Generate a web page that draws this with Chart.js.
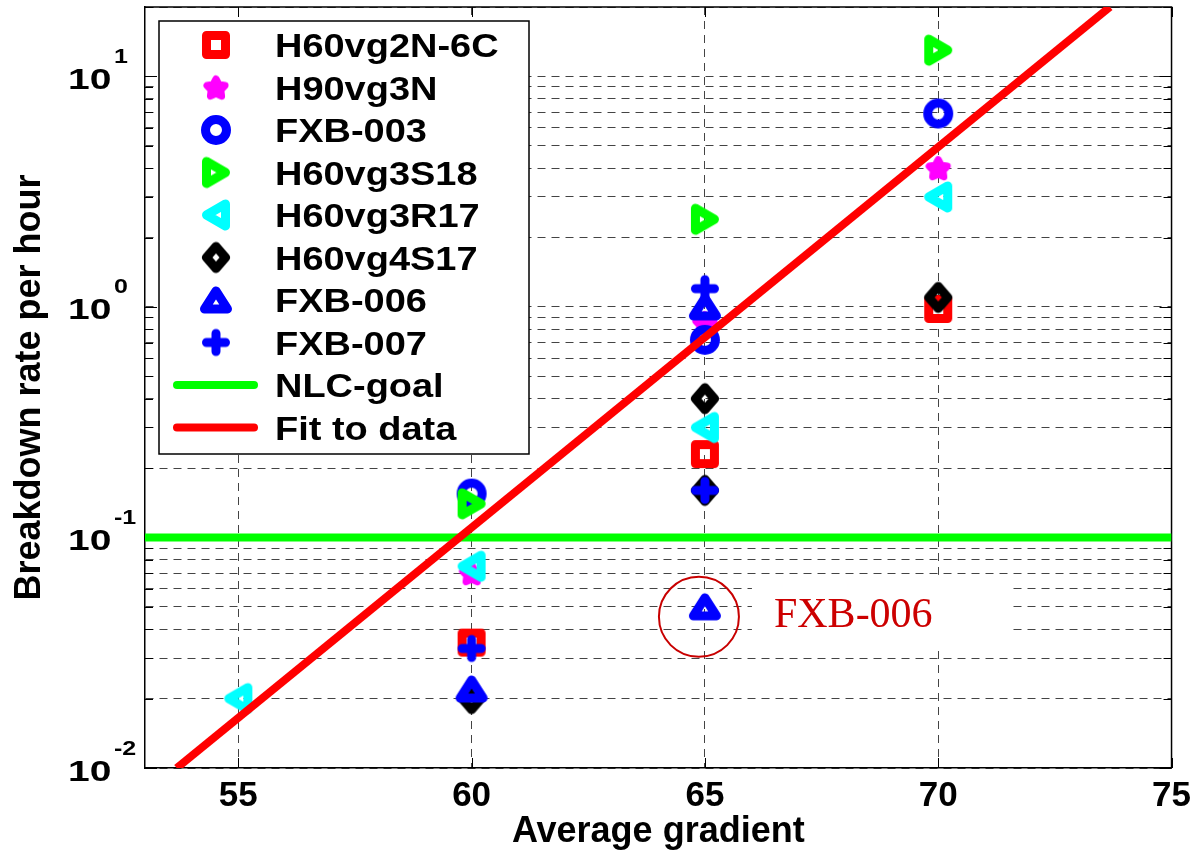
<!DOCTYPE html>
<html lang="en">
<head>
<meta charset="UTF-8">
<title>Breakdown rate vs average gradient</title>
<script src="https://cdn.jsdelivr.net/npm/chart.js"></script>
<style>
    body { margin: 0; background: white; }
    .chart-container { position: relative; width: 1198px; height: 859px; }
</style>
</head>
<body>
<div class="chart-container"><canvas id="bdrChart"></canvas></div>
<script>
// measured breakdown rates (per hour) vs average gradient, one pair of arrays per structure
const h60vg2n6cX = [60, 65, 70];
const h60vg2n6cY = [0.035, 0.23, 0.98];
const h90vg3nX = [60, 65, 70];
const h90vg3nY = [0.07, 0.85, 4.0];
const fxb003X = [60, 65, 70];
const fxb003Y = [0.155, 0.72, 6.9];
const h60vg3s18X = [60, 65, 70];
const h60vg3s18Y = [0.14, 2.4, 13];
const h60vg3r17X = [55, 60, 65, 70];
const h60vg3r17Y = [0.02, 0.075, 0.3, 3.0];
const h60vg4s17X = [60, 65, 65, 70];
const h60vg4s17Y = [0.02, 0.4, 0.16, 1.1];
const fxb006X = [60, 65, 65];
const fxb006Y = [0.022, 1.0, 0.05];
const fxb007X = [60, 65, 65];
const fxb007Y = [0.033, 1.2, 0.16];
const nlcGoalX = [53, 75];
const nlcGoalY = [0.1, 0.1];
const fitX = [53.68, 73.68];
const fitY = [0.01, 20];

// axis ticks
const xTickValues = [55, 60, 65, 70, 75];
const yDecades = [0.01, 0.1, 1, 10];
const yExponents = ['-2', '-1', '0', '1'];
const yMinorSteps = [1, 2, 3, 4, 5, 6, 7, 8, 9];

const annotationText = 'FXB-006';

function pts(xs, ys) {
    return xs.map((x, i) => ({ x: x, y: ys[i] }));
}

// thick MATLAB-like markers drawn once on small canvases
function marker(shape, color) {
    const c = document.createElement('canvas');
    c.width = 40; c.height = 40;
    const g = c.getContext('2d');
    g.translate(20, 20);
    g.strokeStyle = color;
    g.fillStyle = color;
    g.lineWidth = 9;
    g.lineJoin = 'round';
    g.lineCap = 'round';
    g.beginPath();
    if (shape === 'square') {
        g.rect(-9.5, -9.5, 19, 19);
    } else if (shape === 'circle') {
        g.arc(0, 0, 10.5, 0, Math.PI * 2);
    } else if (shape === 'triRight') {
        g.moveTo(-9.5, -11); g.lineTo(9.5, 0); g.lineTo(-9.5, 11); g.closePath();
    } else if (shape === 'triLeft') {
        g.moveTo(9.5, -11); g.lineTo(-9.5, 0); g.lineTo(9.5, 11); g.closePath();
    } else if (shape === 'diamond') {
        g.moveTo(0, -11); g.lineTo(9.5, 0); g.lineTo(0, 11); g.lineTo(-9.5, 0); g.closePath();
    } else if (shape === 'triUp') {
        g.moveTo(0, -9); g.lineTo(11.5, 9); g.lineTo(-11.5, 9); g.closePath();
    } else if (shape === 'plus') {
        g.moveTo(-9.5, 0); g.lineTo(9.5, 0); g.moveTo(0, -9); g.lineTo(0, 9);
    } else if (shape === 'pentagram') {
        g.lineWidth = 7;
        for (let k = 0; k < 10; k++) {
            const r = k % 2 === 0 ? 9.5 : 5;
            const a = -Math.PI / 2 + k * Math.PI / 5;
            if (k === 0) g.moveTo(r * Math.cos(a), r * Math.sin(a) + 1);
            else g.lineTo(r * Math.cos(a), r * Math.sin(a) + 1);
        }
        g.closePath();
        g.fill();
    }
    g.stroke();
    return c;
}

function markerSet(label, xs, ys, shape, color) {
    return {
        label: label,
        data: pts(xs, ys),
        pointStyle: marker(shape, color),
        pointRadius: 14,
        borderColor: color,
        backgroundColor: color,
        showLine: false
    };
}

function lineSet(label, xs, ys, color) {
    return {
        label: label,
        data: pts(xs, ys),
        showLine: true,
        borderColor: color,
        backgroundColor: color,
        borderWidth: 8,
        borderCapStyle: 'butt',
        pointRadius: 0,
        fill: false
    };
}

const datasets = [
    markerSet('H60vg2N-6C', h60vg2n6cX, h60vg2n6cY, 'square', '#ff0000'),
    markerSet('H90vg3N', h90vg3nX, h90vg3nY, 'pentagram', '#ff00ff'),
    markerSet('FXB-003', fxb003X, fxb003Y, 'circle', '#0000ff'),
    markerSet('H60vg3S18', h60vg3s18X, h60vg3s18Y, 'triRight', '#00ff00'),
    markerSet('H60vg3R17', h60vg3r17X, h60vg3r17Y, 'triLeft', '#00ffff'),
    markerSet('H60vg4S17', h60vg4s17X, h60vg4s17Y, 'diamond', '#000000'),
    markerSet('FXB-006', fxb006X, fxb006Y, 'triUp', '#0000ff'),
    markerSet('FXB-007', fxb007X, fxb007Y, 'plus', '#0000ff'),
    lineSet('NLC-goal', nlcGoalX, nlcGoalY, '#00ff00'),
    lineSet('Fit to data', fitX, fitY, '#ff0000')
];
// later series are drawn on top, as in the original plot
datasets.forEach((d, i) => { d.order = datasets.length - i; });

const FONT = "'Liberation Sans', Arial, sans-serif";

const decorPlugin = {
    id: 'decor',
    beforeDatasetsDraw(chart) {
        const ctx = chart.ctx;
        const a = chart.chartArea;
        const xs = chart.scales.x;
        const ys = chart.scales.y;
        ctx.save();
        // top and right frame
        ctx.strokeStyle = '#000';
        ctx.lineWidth = 1.5;
        ctx.beginPath();
        ctx.moveTo(a.left, a.top); ctx.lineTo(a.right, a.top); ctx.lineTo(a.right, a.bottom);
        ctx.stroke();
        // inward tick marks
        ctx.lineWidth = 1;
        ctx.beginPath();
        xTickValues.forEach(v => {
            const px = Math.round(xs.getPixelForValue(v)) + 0.5;
            ctx.moveTo(px, a.bottom); ctx.lineTo(px, a.bottom - 10);
            ctx.moveTo(px, a.top); ctx.lineTo(px, a.top + 10);
        });
        ys.ticks.forEach(t => {
            const py = Math.round(ys.getPixelForValue(t.value)) + 0.5;
            const len = yDecades.includes(t.value) ? 12 : 8;
            ctx.moveTo(a.left, py); ctx.lineTo(a.left + len, py);
            ctx.moveTo(a.right, py); ctx.lineTo(a.right - len, py);
        });
        ctx.stroke();
        // FXB-006 call-out
        const ax = xs.getPixelForValue(65);
        const ay = ys.getPixelForValue(0.05);
        ctx.fillStyle = '#fff';
        ctx.fillRect(ax + 47, ay - 32, 259, 75);
        ctx.fillStyle = '#cc0000';
        ctx.font = "42px 'Liberation Serif', 'Times New Roman', serif";
        ctx.textBaseline = 'alphabetic';
        ctx.textAlign = 'left';
        ctx.fillText(annotationText, ax + 69, ay + 20);
        ctx.strokeStyle = '#c80000';
        ctx.lineWidth = 2;
        ctx.beginPath();
        ctx.arc(ax - 6, ay + 10, 40, 0, Math.PI * 2);
        ctx.stroke();
        ctx.restore();
    },
    afterDatasetsDraw(chart) {
        const ctx = chart.ctx;
        const a = chart.chartArea;
        const left = a.left + 14;
        const top = a.top + 14;
        ctx.save();
        ctx.fillStyle = '#fff';
        ctx.fillRect(left, top, 370, 433);
        ctx.strokeStyle = '#000';
        ctx.lineWidth = 1.5;
        ctx.strokeRect(left, top, 370, 433);
        chart.data.datasets.forEach((d, i) => {
            const cy = top + 24 + i * 42.5;
            if (d.showLine) {
                ctx.strokeStyle = d.borderColor;
                ctx.lineWidth = 8;
                ctx.lineCap = 'round';
                ctx.beginPath();
                ctx.moveTo(left + 18, cy); ctx.lineTo(left + 95, cy);
                ctx.stroke();
            } else {
                const img = d.pointStyle;
                ctx.drawImage(img, left + 57 - img.width / 2, cy - img.height / 2);
            }
            ctx.save();
            ctx.translate(left + 116, cy + 12);
            ctx.scale(1.15, 1);
            ctx.fillStyle = '#000';
            ctx.font = 'bold 33px ' + FONT;
            ctx.textBaseline = 'alphabetic';
            ctx.fillText(d.label, 0, 0);
            ctx.restore();
        });
        ctx.restore();
    },
    afterDraw(chart) {
        const ctx = chart.ctx;
        const ys = chart.scales.y;
        ctx.save();
        ctx.fillStyle = '#000';
        ctx.textBaseline = 'alphabetic';
        yDecades.forEach((v, i) => {
            const py = ys.getPixelForValue(v);
            ctx.save();
            ctx.translate(68, py + 12.5);
            ctx.scale(1.3, 1);
            ctx.font = 'bold 30px ' + FONT;
            ctx.fillText('10', 0, 0);
            ctx.restore();
            ctx.save();
            ctx.translate(114, py - 13.5);
            ctx.scale(1.25, 1);
            ctx.font = 'bold 20px ' + FONT;
            ctx.fillText(yExponents[i], 0, 0);
            ctx.restore();
        });
        ctx.restore();
    }
};

const gridOpts = { color: '#444', lineWidth: 1, drawTicks: false, tickLength: 0 };
const borderOpts = { display: true, color: '#000', width: 1.5, dash: [8, 6] };

new Chart(document.getElementById('bdrChart').getContext('2d'), {
    type: 'scatter',
    data: { datasets: datasets },
    options: {
        responsive: true,
        maintainAspectRatio: false,
        animation: false,
        layout: { autoPadding: false, padding: { top: 7, right: 23, left: 0, bottom: 0 } },
        plugins: {
            legend: { display: false },
            tooltip: { enabled: false }
        },
        scales: {
            x: {
                type: 'linear',
                min: 53,
                max: 75,
                afterBuildTicks: s => { s.ticks = xTickValues.map(v => ({ value: v })); },
                afterFit: s => { s.height = 91; },
                ticks: {
                    color: '#000',
                    padding: 7,
                    maxRotation: 0,
                    autoSkip: false,
                    font: { family: FONT, size: 35, weight: 'bold' }
                },
                grid: gridOpts,
                border: borderOpts,
                title: {
                    display: true,
                    text: 'Average gradient',
                    color: '#000',
                    font: { family: FONT, size: 36, weight: 'bold' },
                    padding: { top: 0, bottom: 5 }
                }
            },
            y: {
                type: 'logarithmic',
                min: 0.01,
                max: 20,
                afterBuildTicks: s => {
                    const t = [];
                    yDecades.forEach(d => yMinorSteps.forEach(m => {
                        const v = +(d * m).toPrecision(3);
                        if (v <= 20) t.push({ value: v });
                    }));
                    t.push({ value: 20 });
                    s.ticks = t;
                },
                afterFit: s => { s.width = 145; },
                ticks: { display: false },
                grid: gridOpts,
                border: borderOpts,
                title: {
                    display: true,
                    text: 'Breakdown rate per hour',
                    color: '#000',
                    font: { family: FONT, size: 36, weight: 'bold' },
                    padding: { top: 8, bottom: 0 }
                }
            }
        }
    },
    plugins: [decorPlugin]
});
</script>
</body>
</html>
